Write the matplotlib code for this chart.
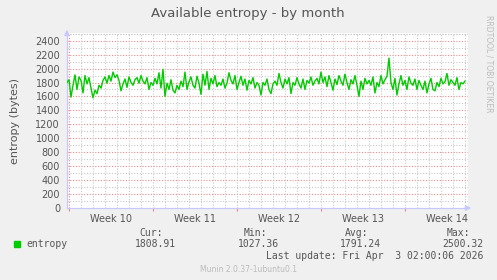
"""Munin style chart: available entropy by month."""
import matplotlib
matplotlib.use('Agg')
import matplotlib.pyplot as plt
import numpy as np

BG = '#F0F0F0'
GREEN = '#00CC00'
TXT = '#555555'
MAJOR = '#EE8888'
MINOR = '#C8C8C8'
AXIS = '#C8C8FF'

# entropy samples (bytes), one every 2 px / 4 h across the month
entropy = [
    1800, 1840, 1590, 1760, 1910, 1700, 1880, 1830, 1650, 1900, 1780, 1870, 1720, 1580, 1690, 1640, 1760,
    1720, 1830, 1880, 1790, 1900, 1820, 1950, 1870, 1910, 1830, 1680, 1780, 1850, 1730, 1880, 1800,
    1760, 1840, 1870, 1790, 1900, 1820, 1780, 1870, 1700, 1800, 1760, 1860, 1780, 1940, 1720, 1990,
    1600, 1790, 1700, 1840, 1690, 1650, 1760, 1700, 1820, 1740, 1950, 1700, 1810, 1880, 1760, 1720,
    1890, 1790, 1630, 1920, 1760, 1960, 1700, 1860, 1780, 1900, 1740, 1800, 1760, 1850, 1720, 1790,
    1940, 1830, 1780, 1900, 1700, 1800, 1890, 1760, 1850, 1690, 1830, 1780, 1870, 1720, 1800, 1760,
    1620, 1800, 1760, 1850, 1700, 1640, 1780, 1820, 1760, 1930, 1800, 1720, 1850, 1780, 1870, 1640,
    1800, 1760, 1870, 1780, 1720, 1850, 1700, 1830, 1790, 1880, 1760, 1820, 1860, 1780, 1950, 1800,
    1880, 1740, 1900, 1800, 1690, 1850, 1770, 1900, 1820, 1760, 1920, 1800, 1700, 1840, 1780, 1900,
    1760, 1600, 1820, 1700, 1860, 1780, 1830, 1760, 1880, 1650, 1800, 1740, 1900, 1780, 1840, 1890,
    2150, 1800, 1700, 1860, 1620, 1780, 1900, 1760, 1830, 1700, 1880, 1790, 1760, 1850, 1700, 1830,
    1760, 1700, 1820, 1650, 1780, 1860, 1700, 1680, 1800, 1740, 1860, 1780, 1810, 1930, 1760, 1840,
    1800, 1760, 1870, 1700, 1800, 1780, 1820,
]
week_labels = ['Week 10', 'Week 11', 'Week 12', 'Week 13', 'Week 14']
legend_cols = ['Cur:', 'Min:', 'Avg:', 'Max:']
legend_vals = ['1808.91', '1027.36', '1791.24', '2500.32']

days = np.arange(len(entropy)) / 6.0      # 6 samples per day
span = 33.42                              # days shown
first_monday = 0.17

fig = plt.figure(figsize=(4.97, 2.80), dpi=100, facecolor=BG)
ax = fig.add_axes([67 / 497, 72 / 280, 401 / 497, 175 / 280])
ax.set_facecolor('white')

ax.plot(days, entropy, color=GREEN, lw=1.0, zorder=3)

ax.set_xlim(0, span)
ax.set_ylim(0, 2510)

# grid: 100 / 200 horizontally, day / week vertically
dash = (0, (1, 1.5))
for y in np.arange(100, 2510, 100):
    major = y % 200 == 0
    ax.axhline(y, color=MAJOR if major else MINOR, lw=0.8, ls=dash, zorder=1)
mondays = first_monday + 7 * np.arange(len(week_labels))
for d in np.arange(first_monday, span, 1.0):
    major = np.isclose((d - first_monday) % 7, 0)
    ax.axvline(d, color=MAJOR if major else MINOR, lw=0.8, ls=dash, zorder=1)
ax.axvline(span, color=MINOR, lw=0.8, ls=dash, zorder=1)
ax.axhline(2500, color=MINOR, lw=0.8, ls=dash, zorder=1)

ax.set_yticks(np.arange(0, 2401, 200))
ax.set_xticks(mondays + 3.5)
ax.set_xticklabels(week_labels)
ax.tick_params(axis='both', length=0, labelsize=7, colors=TXT, pad=4)
ax.tick_params(axis='y', pad=5)
# small red ticks under the week boundaries
ax.set_xticks(mondays, minor=True)
ax.tick_params(axis='x', which='minor', length=2.5, width=0.8, color=MAJOR)
for s in ['top', 'right']:
    ax.spines[s].set_visible(False)
for s in ['left', 'bottom']:
    ax.spines[s].set_color(AXIS)
    ax.spines[s].set_linewidth(0.9)

# axis arrows
ax.annotate('', xy=(0, 1.035), xytext=(0, 0.98), xycoords='axes fraction',
            arrowprops=dict(arrowstyle='-|>', color=AXIS, lw=0.9, mutation_scale=8),
            annotation_clip=False)
ax.annotate('', xy=(1.015, 0), xytext=(0.99, 0), xycoords='axes fraction',
            arrowprops=dict(arrowstyle='-|>', color=AXIS, lw=0.9, mutation_scale=8),
            annotation_clip=False)

ax.set_ylabel('entropy (bytes)', fontsize=8, color=TXT, labelpad=11)
fig.text(248 / 497, 1 - 13 / 280, 'Available entropy - by month',
         ha='center', va='center', fontsize=9.5, color=TXT)
fig.text(489 / 497, 1 - 15 / 280, 'RRDTOOL / TOBI OETIKER', rotation=-90,
         ha='center', va='top', fontsize=5.5, color='#BBBBBB')

# legend block
mono = 'DejaVu Sans Mono'
fig.patches.append(plt.Rectangle((14 / 497, 1 - 247 / 280), 6 / 497, 6 / 280,
                                 transform=fig.transFigure, color=GREEN))
fig.text(26 / 497, 1 - 244 / 280, 'entropy', family=mono, fontsize=7,
         color=TXT, va='center')
col_right = [163, 267, 368, 470]
val_right = [176, 279, 381, 483]
for name, val, cr, vr in zip(legend_cols, legend_vals, col_right, val_right):
    fig.text(cr / 497, 1 - 233 / 280, name, family=mono, fontsize=7,
             color=TXT, ha='right', va='center')
    fig.text(vr / 497, 1 - 244 / 280, val, family=mono, fontsize=7,
             color=TXT, ha='right', va='center')
fig.text(483 / 497, 1 - 256 / 280, 'Last update: Fri Apr  3 02:00:06 2026',
         family=mono, fontsize=7, color=TXT, ha='right', va='center')
fig.text(248 / 497, 1 - 269 / 280, 'Munin 2.0.37-1ubuntu0.1',
         fontsize=5.5, color='#BBBBBB', ha='center', va='center')

fig.savefig('out.png', dpi=100, facecolor=BG)
